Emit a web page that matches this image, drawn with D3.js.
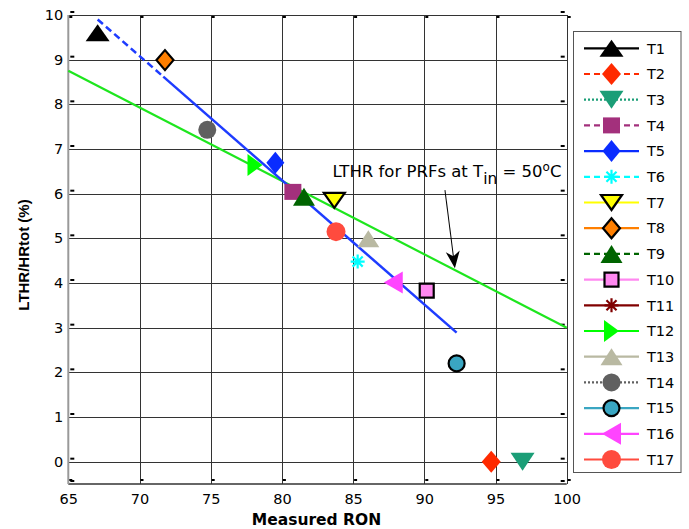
<!DOCTYPE html>
<html>
<head>
<meta charset="utf-8">
<script src="https://cdn.jsdelivr.net/npm/d3@7"></script>
<style>
  html, body { margin: 0; padding: 0; background: #fff; }
  svg { display: block; }
</style>
</head>
<body>
<svg id="chart" width="689" height="529"></svg>
<script>
// ---------------- DATA ----------------
const seriesNames = ["T1","T2","T3","T4","T5","T6","T7","T8","T9","T10","T11","T12","T13","T14","T15","T16","T17"];
const ronValues   = [67.06, 94.7, 96.9, 80.77, 79.54, 85.32, 83.68, 71.79, 81.55, 90.17, 83.9, 78.11, 86.07, 74.76, 92.27, 87.82, 83.8];
const lthrValues  = [9.60, 0.0, 0.0, 6.04, 6.69, 4.48, 5.85, 8.99, 5.93, 3.83, 5.15, 6.64, 4.99, 7.43, 2.20, 4.01, 5.15];

const xTickValues = [65, 70, 75, 80, 85, 90, 95, 100];
const yTickValues = [0, 1, 2, 3, 4, 5, 6, 7, 8, 9, 10];

// fit lines (RON, LTHR)
const blueDashX = [67.06, 71.67];
const blueDashY = [9.90, 8.62];
const blueSolidX = [71.67, 92.27];
const blueSolidY = [8.62, 2.89];
const greenLineX = [65, 100];
const greenLineY = [8.75, 3.0];

// annotation (data coords)
const annotText = ["LTHR for PRFs at T", "in", " = 50", "o", "C"];
const annotTextPos = [83.55, 6.37];
const arrowFromPos = [91.45, 6.08];
const arrowToPos = [92.15, 4.33];

const xLabel = "Measured RON";
const yLabel = "LTHR/HRtot (%)";

// ---------------- STYLE ----------------
const styles = {
  T1:  {color:"#000000", dash:null,  sym:"triUp",    w:24, h:17, edge:null},
  T2:  {color:"#ff2a00", dash:"6,4", sym:"diamond",  w:19, h:22, edge:null},
  T3:  {color:"#1b9e77", dash:"2,2", sym:"triDown",  w:24, h:18, edge:null},
  T4:  {color:"#a3307c", dash:"6,4", sym:"square",   w:17, h:16, edge:null},
  T5:  {color:"#0a2cff", dash:null,  sym:"diamond",  w:18, h:22, edge:null},
  T6:  {color:"#00ffff", dash:"6,4", sym:"asterisk", w:14, h:14, edge:null},
  T7:  {color:"#ffff00", dash:null,  sym:"triDown",  w:21, h:15, edge:"#000"},
  T8:  {color:"#ff7f00", dash:null,  sym:"diamond",  w:17, h:20, edge:"#000"},
  T9:  {color:"#006400", dash:"6,4", sym:"triUp",    w:22, h:18, edge:null},
  T10: {color:"#ff88f0", dash:null,  sym:"square",   w:14, h:14, edge:"#000"},
  T11: {color:"#800000", dash:null,  sym:"asterisk", w:14, h:14, edge:null},
  T12: {color:"#00ff00", dash:null,  sym:"triRight", w:15, h:22, edge:null},
  T13: {color:"#b9b9a2", dash:null,  sym:"triUp",    w:22, h:17, edge:null},
  T14: {color:"#606060", dash:"2,2", sym:"circle",   w:18, h:18, edge:null},
  T15: {color:"#3aa6c2", dash:null,  sym:"circle",   w:16, h:16, edge:"#000"},
  T16: {color:"#ff44ff", dash:null,  sym:"triLeft",  w:19, h:22, edge:null},
  T17: {color:"#ff4b3e", dash:null,  sym:"circle",   w:19, h:19, edge:null}
};

function symPath(t, w, h) {
  const a = w/2, b = h/2;
  switch (t) {
    case "triUp":    return `M0,${-b}L${a},${b}L${-a},${b}Z`;
    case "triDown":  return `M0,${b}L${a},${-b}L${-a},${-b}Z`;
    case "triRight": return `M${a},0L${-a},${-b}L${-a},${b}Z`;
    case "triLeft":  return `M${-a},0L${a},${-b}L${a},${b}Z`;
    case "diamond":  return `M0,${-b}L${a},0L0,${b}L${-a},0Z`;
    case "square":   return `M${-a},${-b}L${a},${-b}L${a},${b}L${-a},${b}Z`;
    case "circle":   return `M${a},0A${a},${b} 0 1,1 ${-a},0A${a},${b} 0 1,1 ${a},0Z`;
    case "asterisk": {
      const r = a, d = r*0.72;
      return `M0,${-r}L0,${r}M${-r},0L${r},0M${-d},${-d}L${d},${d}M${-d},${d}L${d},${-d}`;
    }
  }
}

function drawMarker(g, name, cx, cy) {
  const s = styles[name];
  const p = g.append("path")
    .attr("d", symPath(s.sym, s.w, s.h))
    .attr("transform", `translate(${cx},${cy})`);
  if (s.sym === "asterisk") {
    p.attr("fill", "none").attr("stroke", s.color).attr("stroke-width", 2.2);
  } else {
    p.attr("fill", s.color);
    if (s.edge) p.attr("stroke", s.edge).attr("stroke-width", 2.2).attr("stroke-linejoin","miter");
  }
  return p;
}

// ---------------- CHART ----------------
const svg = d3.select("#chart");
const plot = {left: 68.3, right: 566.7, top: 15, bottom: 484};
const x = d3.scaleLinear().domain([65, 100]).range([plot.left, plot.right]);
const y = d3.scaleLinear().domain([-0.5, 10]).range([plot.bottom, plot.top]);

svg.append("rect").attr("width", 689).attr("height", 529).attr("fill", "#fff");

// grid
const gridX = svg.append("g").attr("transform", `translate(0,${plot.bottom})`)
  .call(d3.axisBottom(x).tickValues(xTickValues).tickSize(-(plot.bottom - plot.top)).tickFormat(""));
gridX.select(".domain").remove();
gridX.selectAll("line").attr("stroke", "#333").attr("stroke-width", 1).attr("shape-rendering","crispEdges");

const gridY = svg.append("g").attr("transform", `translate(${plot.left},0)`)
  .call(d3.axisLeft(y).tickValues(yTickValues).tickSize(-(plot.right - plot.left)).tickFormat(""));
gridY.select(".domain").remove();
gridY.selectAll("line").attr("stroke", "#333").attr("stroke-width", 1).attr("shape-rendering","crispEdges");

// axes frame
svg.append("line").attr("x1", plot.left).attr("x2", plot.right).attr("y1", plot.bottom).attr("y2", plot.bottom)
  .attr("stroke", "#333").attr("stroke-width", 1.3);
svg.append("line").attr("x1", plot.left).attr("x2", plot.left).attr("y1", plot.top).attr("y2", plot.bottom)
  .attr("stroke", "#999").attr("stroke-width", 2);

// inward tick marks
const tickG = svg.append("g").attr("stroke", "#000").attr("stroke-width", 2);
xTickValues.forEach(v => {
  tickG.append("line").attr("x1", x(v)+1).attr("x2", x(v)+4).attr("y1", plot.bottom-4).attr("y2", plot.bottom-4);
  tickG.append("line").attr("x1", x(v)+1).attr("x2", x(v)+4).attr("y1", plot.top+2).attr("y2", plot.top+2);
});
yTickValues.concat([-0.5]).forEach(v => {
  tickG.append("line").attr("x1", plot.left+2).attr("x2", plot.left+6).attr("y1", y(v)-3).attr("y2", y(v)-3);
  tickG.append("line").attr("x1", plot.right-6).attr("x2", plot.right-2).attr("y1", y(v)-3).attr("y2", y(v)-3);
});

// tick labels via axes
const axX = svg.append("g").attr("transform", `translate(0,${plot.bottom})`)
  .call(d3.axisBottom(x).tickValues(xTickValues).tickSize(0).tickPadding(10).tickFormat(d3.format("d")));
axX.select(".domain").remove();
axX.selectAll("text").attr("font-family", "DejaVu Sans").attr("font-size", 14.5).attr("fill", "#000");

const axY = svg.append("g").attr("transform", `translate(${plot.left},0)`)
  .call(d3.axisLeft(y).tickValues(yTickValues).tickSize(0).tickPadding(5).tickFormat(d3.format("d")));
axY.select(".domain").remove();
axY.selectAll("text").attr("font-family", "DejaVu Sans").attr("font-size", 14.5).attr("fill", "#000");

// axis titles
svg.append("text").attr("x", (plot.left+plot.right)/2 - 1).attr("y", 525)
  .attr("text-anchor", "middle").attr("font-family", "DejaVu Sans").attr("font-weight", "bold")
  .attr("font-size", 15.5).text(xLabel);
svg.append("text").attr("transform", "translate(28.5,255) rotate(-90)")
  .attr("text-anchor", "middle").attr("font-family", "Liberation Sans, Arial").attr("font-weight", "bold")
  .attr("font-size", 15).text(yLabel);

// fit lines
const lineGen = d3.line().x(d => x(d[0])).y(d => y(d[1]));
svg.append("path").datum(d3.zip(greenLineX, greenLineY)).attr("d", lineGen)
  .attr("fill", "none").attr("stroke", "#1ee61e").attr("stroke-width", 2.2);
svg.append("path").datum(d3.zip(blueDashX, blueDashY)).attr("d", lineGen)
  .attr("fill", "none").attr("stroke", "#1e3cff").attr("stroke-width", 2.5).attr("stroke-dasharray", "7,4");
svg.append("path").datum(d3.zip(blueSolidX, blueSolidY)).attr("d", lineGen)
  .attr("fill", "none").attr("stroke", "#1e3cff").attr("stroke-width", 2.5);

// points
const ptG = svg.append("g");
seriesNames.forEach((n, i) => drawMarker(ptG, n, x(ronValues[i]), y(lthrValues[i])));

// annotation
const at = svg.append("text").attr("x", x(annotTextPos[0])).attr("y", y(annotTextPos[1]))
  .attr("font-family", "DejaVu Sans").attr("font-size", 16.5).attr("fill", "#000");
at.append("tspan").text(annotText[0]);
at.append("tspan").attr("dy", 7).attr("font-size", 15.5).text(annotText[1]);
at.append("tspan").attr("dy", -7).text(annotText[2]);
at.append("tspan").attr("dy", -6.5).attr("font-size", 12).text(annotText[3]);
at.append("tspan").attr("dy", 6.5).text(annotText[4]);

const ax1 = x(arrowFromPos[0]), ay1 = y(arrowFromPos[1]);
const ax2 = x(arrowToPos[0]), ay2 = y(arrowToPos[1]);
const ang = Math.atan2(ay2 - ay1, ax2 - ax1) * 180 / Math.PI;
const len = Math.hypot(ax2 - ax1, ay2 - ay1);
const arrowG = svg.append("g").attr("transform", `translate(${ax1},${ay1}) rotate(${ang})`);
arrowG.append("line").attr("x1", 0).attr("y1", 0).attr("x2", len - 10).attr("y2", 0)
  .attr("stroke", "#000").attr("stroke-width", 1);
arrowG.append("path").attr("d", `M${len},0L${len-17},-7L${len-12},0L${len-17},7Z`).attr("fill", "#000");

// legend
const leg = svg.append("g");
leg.append("rect").attr("x", 573.5).attr("y", 31.5).attr("width", 107.5).attr("height", 441)
  .attr("fill", "#fff").attr("stroke", "#555").attr("stroke-width", 1);
seriesNames.forEach((n, i) => {
  const cy = 48.3 + i * 25.7;
  const s = styles[n];
  leg.append("line").attr("x1", 584).attr("x2", 639).attr("y1", cy).attr("y2", cy)
    .attr("stroke", s.color).attr("stroke-width", 2.2)
    .attr("stroke-dasharray", s.dash);
  drawMarker(leg, n, 611.5, cy);
  leg.append("text").attr("x", 647).attr("y", cy).attr("dy", "0.36em")
    .attr("font-family", "DejaVu Sans").attr("font-size", 14.5).text(n);
});
</script>
</body>
</html>
